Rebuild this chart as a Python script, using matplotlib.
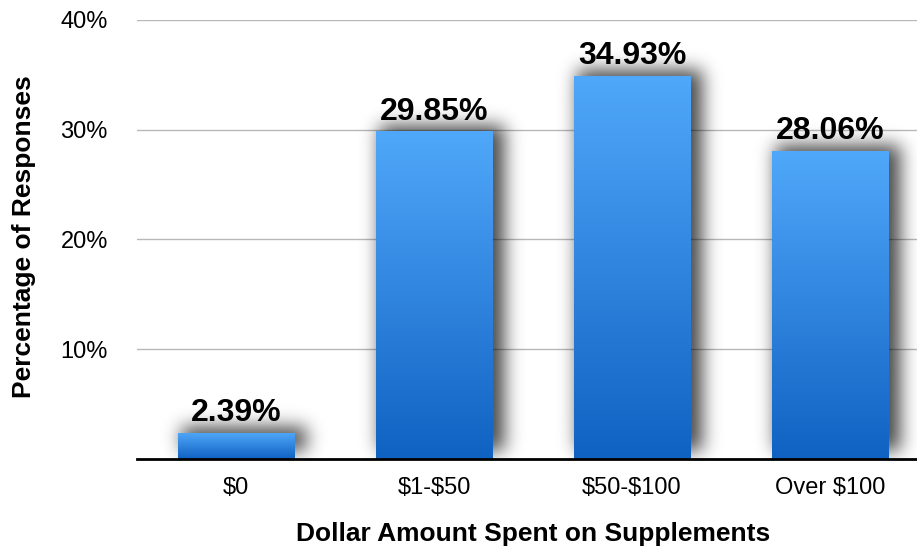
import numpy as np
import matplotlib
matplotlib.use("Agg")
import matplotlib.pyplot as plt
from matplotlib.colors import LinearSegmentedColormap
from math import erf

categories = ["$0", "$1-$50", "$50-$100", "Over $100"]
values = [2.39, 29.85, 34.93, 28.06]
yticks = [10, 20, 30, 40]
ytick_labels = ["10%", "20%", "30%", "40%"]

plt.rcParams['font.family'] = ['Liberation Sans', 'DejaVu Sans']
plt.rcParams['text.parse_math'] = False

W, H = 917, 551
fig = plt.figure(figsize=(W / 100, H / 100), dpi=100)
left, right = 137 / W, 929 / W
bottom, top = 1 - 459 / H, 1 - 20 / H
ax = fig.add_axes([left, bottom, right - left, top - bottom])
ax.set_xlim(-0.5, 3.5)
ax.set_ylim(0, 40)

x = np.arange(len(categories))
bw = 0.59

ax.set_yticks(yticks)
ax.set_yticklabels(ytick_labels, fontsize=17)
ax.yaxis.grid(True, color='#b8b8b8', lw=1)
ax.set_axisbelow(True)
ax.tick_params(axis='y', length=0, pad=21)
ax.set_xticks(x)
ax.set_xticklabels(categories, fontsize=17)
ax.tick_params(axis='x', length=0, pad=13)
for s in ['top', 'right', 'left']:
    ax.spines[s].set_visible(False)
ax.spines['bottom'].set_linewidth(2)
ax.spines['bottom'].set_color('black')
ax.spines['bottom'].set_zorder(5)

# shadows (blurred, offset) computed in pixel space
fig.canvas.draw()
bbox = ax.get_window_extent()
pw, ph = int(round(bbox.width)), int(round(bbox.height))
px = np.arange(pw) + 0.5
py = np.arange(ph) + 0.5
verf = np.vectorize(erf)
sigma = 9.0
alpha = np.zeros((ph, pw))
for xi, v in zip(x, values):
    (x0, y0) = ax.transData.transform((xi - bw / 2, 0)) - [bbox.x0, bbox.y0]
    (x1, y1) = ax.transData.transform((xi + bw / 2, v)) - [bbox.x0, bbox.y0]
    x0 += 4; x1 += 12; y0 += 8; y1 += 6
    fx = 0.5 * (verf((px - x0) / (sigma * np.sqrt(2))) - verf((px - x1) / (sigma * np.sqrt(2))))
    fy = 0.5 * (verf((py - y0) / (sigma * np.sqrt(2))) - verf((py - y1) / (sigma * np.sqrt(2))))
    alpha = np.maximum(alpha, np.outer(fy, fx))
img = np.zeros((ph, pw, 4))
img[..., 3] = alpha[::-1] * 0.72
ax.imshow(img, extent=(-0.5, 3.5, 0, 40), aspect='auto', zorder=2, interpolation='bilinear')

# gradient bars
cmap = LinearSegmentedColormap.from_list('bg', ['#1062c2', '#50a8fa'])
grad = np.linspace(0, 1, 256).reshape(-1, 1)
bars = ax.bar(x, values, width=bw, color='none', edgecolor='none', zorder=3)
for b in bars:
    bx, by = b.get_x(), b.get_y()
    bwid, bh = b.get_width(), b.get_height()
    im = ax.imshow(grad, cmap=cmap, origin='lower', aspect='auto',
                   extent=(bx, bx + bwid, by, by + bh), zorder=3)
    im.set_clip_path(b)
ax.set_xlim(-0.5, 3.5)
ax.set_ylim(0, 40)

for xi, v in zip(x, values):
    ax.annotate(f"{v:.2f}%", (xi, v), xytext=(0, 8.5), textcoords='offset points',
                ha='center', va='baseline', fontsize=23, fontweight='bold', zorder=6)

fig.text(24 / W, 1 - 237 / H, "Percentage of Responses", rotation=90, ha='center', va='center',
         fontsize=19, fontweight='bold')
fig.text(533 / W, 1 - 534 / H, "Dollar Amount Spent on Supplements", ha='center', va='center',
         fontsize=19, fontweight='bold')

fig.savefig("out.png", dpi=100)
